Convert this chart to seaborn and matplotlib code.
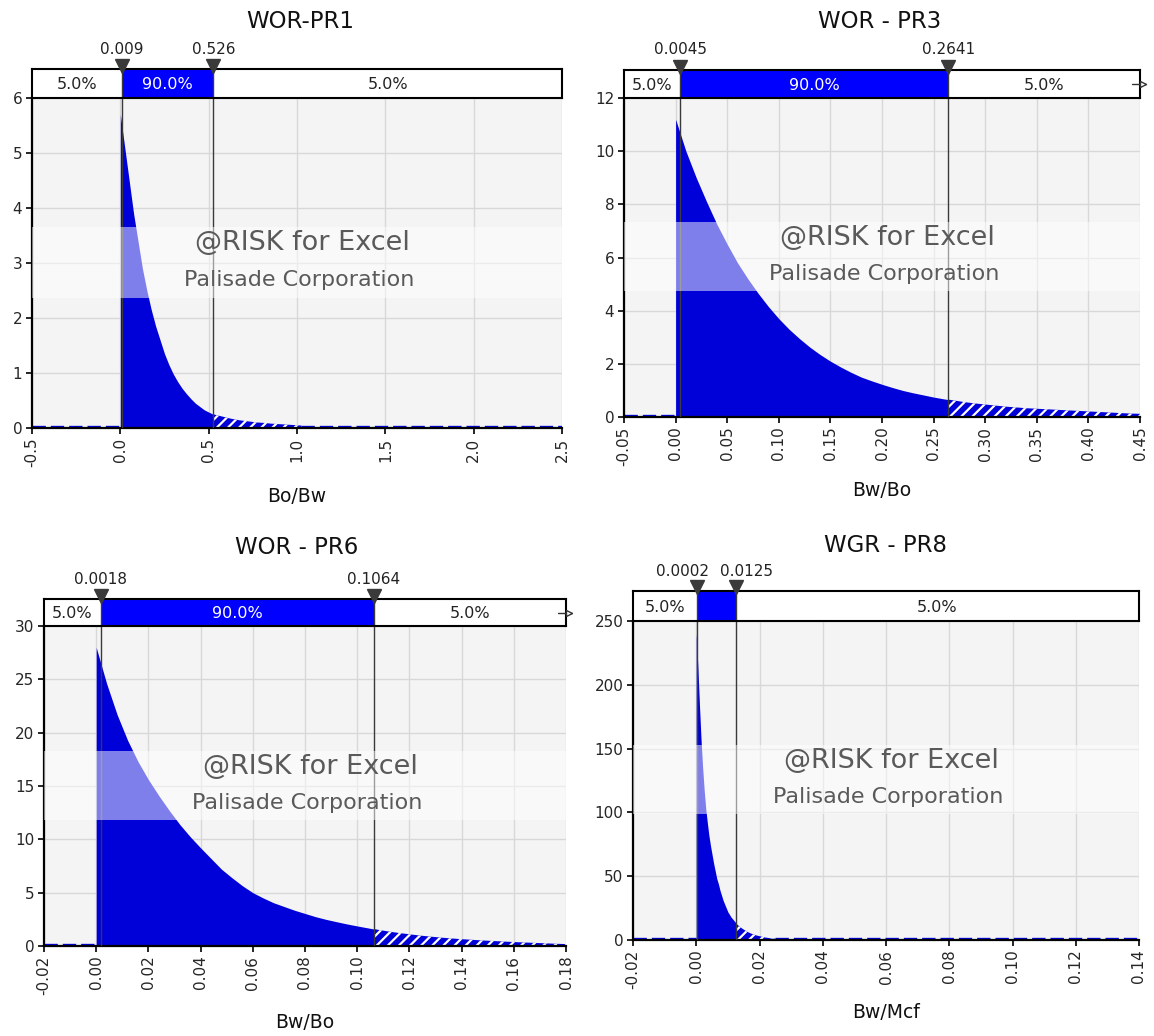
import numpy as np
import pandas as pd
import matplotlib
matplotlib.use("Agg")
import matplotlib.pyplot as plt
import matplotlib.transforms as mtransforms
import seaborn as sns
from matplotlib.patches import Rectangle

# ---------------- data ----------------
titles = ["WOR-PR1", "WOR - PR3", "WOR - PR6", "WGR - PR8"]
xlabels = ["Bo/Bw", "Bw/Bo", "Bw/Bo", "Bw/Mcf"]
p5_values = [0.009, 0.0045, 0.0018, 0.0002]
p95_values = [0.526, 0.2641, 0.1064, 0.0125]
p5_labels = ["0.009", "0.0045", "0.0018", "0.0002"]
p95_labels = ["0.526", "0.2641", "0.1064", "0.0125"]
band_labels = ["5.0%", "90.0%", "5.0%"]
watermark = ["@RISK for Excel", "Palisade Corporation"]

x_limits = [(-0.5, 2.5), (-0.05, 0.45), (-0.02, 0.18), (-0.02, 0.14)]
x_ticks = [
    [-0.5, 0.0, 0.5, 1.0, 1.5, 2.0, 2.5],
    [-0.05, 0.00, 0.05, 0.10, 0.15, 0.20, 0.25, 0.30, 0.35, 0.40, 0.45],
    [-0.02, 0.00, 0.02, 0.04, 0.06, 0.08, 0.10, 0.12, 0.14, 0.16, 0.18],
    [-0.02, 0.00, 0.02, 0.04, 0.06, 0.08, 0.10, 0.12, 0.14],
]
x_fmt = ["{:.1f}", "{:.2f}", "{:.2f}", "{:.2f}"]
y_ticks = [
    [0, 1, 2, 3, 4, 5, 6],
    [0, 2, 4, 6, 8, 10, 12],
    [0, 5, 10, 15, 20, 25, 30],
    [0, 50, 100, 150, 200, 250],
]

# density readings: first x, spacing and heights
pr1_x_start, pr1_x_step = 0.0, 0.025
pr1_heights = [5.7, 5.1, 4.5, 3.9, 3.4, 2.9, 2.5, 2.15, 1.85, 1.6, 1.35, 1.15, 0.98,
               0.84, 0.72, 0.62, 0.53, 0.45, 0.39, 0.33, 0.29,
               0.25, 0.23, 0.21, 0.19, 0.17, 0.155, 0.14, 0.13, 0.12, 0.11, 0.10,
               0.095, 0.09, 0.08, 0.075, 0.07, 0.065, 0.06, 0.055, 0.05, 0.045]

pr3_x_start, pr3_x_step = 0.0, 0.01
pr3_heights = [11.2, 10.0, 9.0, 8.1, 7.25, 6.5, 5.8, 5.2, 4.65, 4.15,
               3.7, 3.3, 2.95, 2.63, 2.35, 2.1, 1.88, 1.68, 1.5, 1.36,
               1.23, 1.11, 1.0, 0.91, 0.83, 0.75, 0.68, 0.62, 0.56, 0.51,
               0.47, 0.43, 0.39, 0.36, 0.33, 0.31, 0.29, 0.27, 0.25, 0.23,
               0.21, 0.19, 0.17, 0.15, 0.13, 0.12]

pr6_x_start, pr6_x_step = 0.0, 0.004
pr6_heights = [28.0, 24.6, 21.7, 19.3, 17.3, 15.6, 14.1, 12.7, 11.4, 10.25,
               9.2, 8.2, 7.2, 6.4, 5.65, 5.0, 4.5, 4.05, 3.7, 3.35,
               3.05, 2.75, 2.5, 2.28, 2.07, 1.88, 1.7, 1.52, 1.36, 1.22,
               1.1, 0.98, 0.88, 0.79, 0.71, 0.64, 0.58, 0.52, 0.47, 0.42,
               0.37, 0.33, 0.29, 0.25, 0.21, 0.18]

pr8_x_start, pr8_x_step = 0.0, 0.0005
pr8_heights = [240, 215, 185, 158, 136, 118, 103, 92, 82, 74,
               67, 60, 54, 48, 44, 39, 35, 31, 28, 25,
               22, 20, 18, 16.5, 15, 13.5, 12, 11, 10, 9,
               8.2, 7.4, 6.6, 6.0, 5.4, 4.9, 4.4, 4.0, 3.6, 3.3,
               3.0, 2.7, 2.4, 2.1, 1.9, 1.7, 1.5, 1.3, 1.2, 1.1, 1.0]

density_specs = [
    (pr1_x_start, pr1_x_step, pr1_heights),
    (pr3_x_start, pr3_x_step, pr3_heights),
    (pr6_x_start, pr6_x_step, pr6_heights),
    (pr8_x_start, pr8_x_step, pr8_heights),
]

# ---------------- layout / style ----------------
W, H = 1154, 1036
sns.set_theme(style="white")
plt.rcParams["font.family"] = ["DejaVu Sans"]
plt.rcParams["hatch.linewidth"] = 1.6

FILL = "#0000d8"
BARBLUE = "#0000ff"
LINEC = "#3a3a3a"

# pixel boxes: (left, right, top, bottom) for plot areas
plot_boxes = [(32, 562, 98, 428), (624, 1140, 98, 417),
              (44, 566, 626, 946), (633, 1139, 621, 940)]
bar_heights_px = [29, 28, 27, 30]
title_pos = [(300, 22), (880, 22), (297, 548), (886, 545)]
xlabel_pos = [(297, 497), (882, 490), (305, 1022), (886, 1012)]
label_dx = [(0, 0), (0, 0), (0, 0), (-10, 7.5)]
show_mid = [True, True, True, False]
show_arrow = [False, True, True, False]

fig = plt.figure(figsize=(W / 100, H / 100), dpi=100)


def fx(px):
    return px / W


def fy(py):
    return 1 - py / H


for i in range(4):
    l, r, t, b = plot_boxes[i]
    ax = fig.add_axes([fx(l), fy(b), fx(r) - fx(l), fy(t) - fy(b)])
    ax.set_facecolor("#f4f4f4")
    xmin, xmax = x_limits[i]
    p5, p95 = p5_values[i], p95_values[i]

    start, step, heights = density_specs[i]
    n = len(heights)
    xs = start + step * np.arange(n)
    df = pd.DataFrame({"x": xs, "h": heights})
    bins = [float(v) for v in (start + step * (np.arange(n + 1) - 0.5))]
    end = xs[-1]

    blend = mtransforms.blended_transform_factory(ax.transData, ax.transAxes)

    n0 = len(ax.collections)
    sns.histplot(data=df, x="x", weights="h", bins=bins, element="poly",
                 fill=True, stat="count", color=FILL, alpha=1, linewidth=0, ax=ax, zorder=2)
    body = ax.collections[n0]
    body.set_clip_path(Rectangle((xmin, 0), p95 - xmin, 1, transform=blend))

    n0 = len(ax.collections)
    sns.histplot(data=df, x="x", weights="h", bins=bins, element="poly",
                 fill=True, stat="count", facecolor=FILL, edgecolor="white", hatch="///",
                 linewidth=0, ax=ax, zorder=2)
    tail = ax.collections[n0]
    tail.set_clip_path(Rectangle((p95, 0), xmax - p95, 1, transform=blend))

    ax.set_xlim(xmin, xmax)
    ax.set_ylim(0, y_ticks[i][-1])

    # dashed baseline where density ~ 0
    ax.plot([xmin, start], [0.004 * y_ticks[i][-1]] * 2, color=FILL, lw=2.4,
            ls=(0, (4, 1.5)), zorder=2)
    if end < xmax:
        ax.plot([end, xmax], [0.004 * y_ticks[i][-1]] * 2, color=FILL, lw=2.4,
                ls=(0, (4, 1.5)), zorder=2)

    ax.set_xticks(x_ticks[i])
    ax.set_xticklabels([x_fmt[i].format(v) for v in x_ticks[i]], rotation=90)
    ax.set_yticks(y_ticks[i])
    ax.set_yticklabels([str(v) for v in y_ticks[i]])
    ax.grid(True, color="#d8d8d8", lw=1)
    ax.set_axisbelow(True)
    ax.tick_params(axis="both", direction="out", length=4, width=1.2, color="black",
                   labelsize=11, pad=3, bottom=True, left=True)
    for s in ["top", "right"]:
        ax.spines[s].set_visible(False)
    for s in ["left", "bottom"]:
        ax.spines[s].set_color("black")
        ax.spines[s].set_linewidth(1.6)
    ax.set_xlabel("")
    ax.set_ylabel("")

    for p in (p5, p95):
        ax.axvline(p, color=LINEC, lw=1, zorder=3)

    # watermark band
    ax.add_patch(Rectangle((0, 0.395), 1, 0.215, transform=ax.transAxes,
                           facecolor="white", alpha=0.5, edgecolor="none", zorder=4))
    ax.text(0.51, 0.56, watermark[0], transform=ax.transAxes, ha="center", va="center",
            fontsize=19.5, color="#5a5a5a", zorder=5)
    ax.text(0.505, 0.448, watermark[1], transform=ax.transAxes, ha="center", va="center",
            fontsize=16, color="#5a5a5a", zorder=5)

    # statistic bar
    bh = bar_heights_px[i]
    bax = fig.add_axes([fx(l), fy(t), fx(r) - fx(l), bh / H])
    bax.set_xlim(xmin, xmax)
    bax.set_ylim(0, 1)
    bax.set_facecolor("white")
    bax.axvspan(p5, p95, color=BARBLUE, lw=0)
    for p in (p5, p95):
        bax.axvline(p, color=LINEC, lw=1)
    bax.set_xticks([])
    bax.set_yticks([])
    for s in bax.spines.values():
        s.set_color("black")
        s.set_linewidth(1.5)
    bax.text((xmin + p5) / 2, 0.45, band_labels[0], ha="center", va="center",
             fontsize=11.5, color="#222222")
    if show_mid[i]:
        bax.text((p5 + p95) / 2, 0.45, band_labels[1], ha="center",
                 va="center", fontsize=11.5, color="white")
    bax.text((p95 + xmax) / 2, 0.45, band_labels[2], ha="center", va="center",
             fontsize=11.5, color="#222222")
    for p, lab, dx in ((p5, p5_labels[i], label_dx[i][0]),
                       (p95, p95_labels[i], label_dx[i][1])):
        bax.plot([p], [1.12], marker="v", ms=10, color=LINEC, clip_on=False, zorder=6)
        bax.annotate(lab, (p, 1.0), xytext=(dx, 9), textcoords="offset points",
                     ha="center", va="bottom", fontsize=11, color="#222222",
                     annotation_clip=False)
    if show_arrow[i]:
        bax.plot([0.985, 1.012], [0.5, 0.5], transform=bax.transAxes, color="#333333",
                 lw=1, clip_on=False, zorder=6)
        bax.plot([1.006], [0.5], transform=bax.transAxes, marker=">", ms=5,
                 mfc="white", mec="#333333", mew=1, clip_on=False, zorder=7)

    fig.text(fx(title_pos[i][0]), fy(title_pos[i][1]), titles[i], ha="center",
             va="center", fontsize=16.5, color="#111111")
    fig.text(fx(xlabel_pos[i][0]), fy(xlabel_pos[i][1]), xlabels[i], ha="center",
             va="center", fontsize=13.5, color="#111111")

fig.savefig("out.png", dpi=100, facecolor="white")
